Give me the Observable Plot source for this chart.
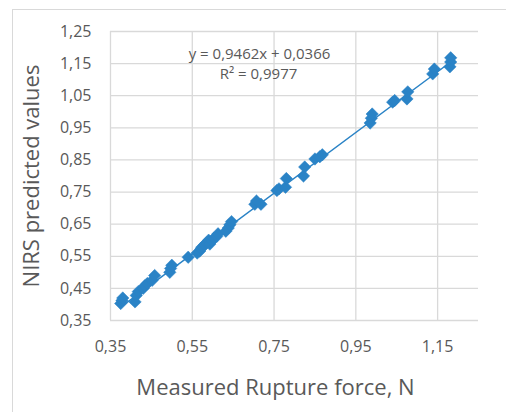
<!DOCTYPE html>
<html>
<head>
<meta charset="utf-8">
<script src="https://cdn.jsdelivr.net/npm/d3@7"></script>
<script src="https://cdn.jsdelivr.net/npm/@observablehq/plot@0.6"></script>
<style>
  html, body { margin: 0; padding: 0; background: #fff; overflow: hidden; }
  #wrap { position: relative; width: 506px; height: 412px; overflow: hidden; }
  #border { position: absolute; left: 12px; top: 9px; width: 520px; height: 430px; border: 1px solid #d9d9d9; box-sizing: border-box; }
  #chart { position: absolute; left: 0; top: 0; }
</style>
</head>
<body>
<div id="wrap"><div id="border"></div><div id="chart"></div></div>
<script>
// Measured rupture force (N)
const measured = [
  0.375, 0.378, 0.380,
  0.410, 0.413, 0.418,
  0.430, 0.434, 0.440,
  0.452, 0.458,
  0.495, 0.497, 0.500,
  0.540,
  0.562, 0.568, 0.572, 0.575, 0.580, 0.585, 0.590, 0.593, 0.598, 0.603, 0.610, 0.613,
  0.632, 0.638, 0.642, 0.646,
  0.703, 0.707, 0.718,
  0.757, 0.762, 0.778, 0.780,
  0.822, 0.825,
  0.850, 0.862, 0.868,
  0.985, 0.988, 0.990,
  1.040, 1.045,
  1.075, 1.077,
  1.138, 1.142,
  1.180, 1.182, 1.182
];
// NIRS predicted values
const predicted = [
  0.403, 0.412, 0.420,
  0.408, 0.428, 0.440,
  0.450, 0.458, 0.465,
  0.475, 0.490,
  0.500, 0.512, 0.522,
  0.547,
  0.560, 0.566, 0.575, 0.580, 0.585, 0.592, 0.600, 0.588, 0.598, 0.606, 0.612, 0.620,
  0.628, 0.638, 0.648, 0.658,
  0.712, 0.722, 0.712,
  0.755, 0.760, 0.765, 0.792,
  0.800, 0.828,
  0.853, 0.860, 0.866,
  0.965, 0.980, 0.993,
  1.030, 1.035,
  1.040, 1.062,
  1.118, 1.133,
  1.140, 1.155, 1.168
];
const xTicks = [0.35, 0.55, 0.75, 0.95, 1.15];
const yTicks = [0.35, 0.45, 0.55, 0.65, 0.75, 0.85, 0.95, 1.05, 1.15, 1.25];
const slope = 0.9462, intercept = 0.0366;
const equationLines = ["y = 0,9462x + 0,0366", "R² = 0,9977"];
const xTitle = "Measured Rupture force, N";
const yTitle = "NIRS predicted values";

const points = measured.map((x, i) => ({x, y: predicted[i]}));
const xMin = d3.min(measured), xMax = d3.max(measured);
const trend = [xMin, xMax].map(x => ({x, y: slope * x + intercept}));
const fmt = d => d.toFixed(2).replace(".", ",");

const blue = "#2a83c6";
const gray = "#595959";
const grid = "#d9d9d9";

const chart = Plot.plot({
  width: 506,
  height: 412,
  marginLeft: 110,
  marginRight: 28,
  marginTop: 31,
  marginBottom: 92,
  style: {fontFamily: "'Open Sans', sans-serif", background: "transparent", overflow: "visible"},
  x: {domain: [0.35, 1.25], ticks: xTicks, tickFormat: fmt, tickSize: 0, tickPadding: 20, label: null},
  y: {domain: [0.35, 1.25], ticks: yTicks, tickFormat: fmt, tickSize: 0, tickPadding: 19, label: null},
  marks: [
    Plot.ruleX(xTicks, {stroke: grid, strokeWidth: 1.3}),
    Plot.ruleY(yTicks, {stroke: grid, strokeWidth: 1.3}),
    Plot.axisX({ticks: xTicks, tickFormat: fmt, tickSize: 0, tickPadding: 20, fontSize: 16, color: gray, label: null}),
    Plot.axisY({ticks: yTicks, tickFormat: fmt, tickSize: 0, tickPadding: 19, fontSize: 16, color: gray, label: null}),
    Plot.line(trend, {x: "x", y: "y", stroke: blue, strokeWidth: 1.5}),
    Plot.dot(points, {x: "x", y: "y", symbol: "diamond2", r: 5.6, fill: blue, stroke: blue, strokeWidth: 0.5}),
    Plot.text([equationLines[0]], {frameAnchor: "top", textAnchor: "middle", lineAnchor: "middle", dx: -35, dy: 23, text: d => d, fontSize: 15, fill: gray}),
    Plot.text([equationLines[1]], {frameAnchor: "top", textAnchor: "middle", lineAnchor: "middle", dx: -36, dy: 43, text: d => d, fontSize: 15, fill: gray}),
    Plot.text([xTitle], {frameAnchor: "bottom", textAnchor: "middle", lineAnchor: "middle", dx: -19, dy: 67, text: d => d, fontSize: 22, fill: gray}),
    Plot.text([yTitle], {frameAnchor: "left", textAnchor: "middle", lineAnchor: "middle", dx: -79, dy: 0, rotate: -90, text: d => d, fontSize: 22, fill: gray})
  ]
});
document.getElementById("chart").appendChild(chart);
</script>
</body>
</html>
